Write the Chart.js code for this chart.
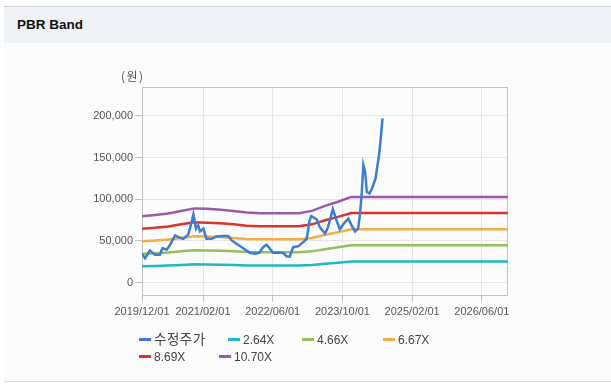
<!DOCTYPE html>
<html>
<head>
<meta charset="utf-8">
<script src="https://cdn.jsdelivr.net/npm/chart.js@4/dist/chart.umd.min.js"></script>
<style>
  html, body { margin: 0; padding: 0; width: 611px; height: 384px; overflow: hidden; background: #ffffff; font-family: "Liberation Sans", "Noto Sans CJK KR", sans-serif; }
  #box { position: absolute; left: 4px; top: 6px; width: 610px; height: 374px; background: #fcfcfc; border-top: 1px solid #d2d2d2; border-bottom: 1px solid #dcdcdc; }
  #head { position: absolute; left: 0; top: 0; width: 100%; height: 36px; background: #eff3f8; }
  #title { position: absolute; left: 13px; top: 10px; font-size: 13.5px; font-weight: bold; color: #111; font-family: "Liberation Sans", "Noto Sans CJK KR", sans-serif; }
  canvas { position: absolute; left: 0; top: 0; }
  #unit { position: absolute; left: 121px; top: 67px; font-size: 12px; color: #555; letter-spacing: 1.5px; font-family: "Noto Sans CJK KR", sans-serif; }
  .lg { position: absolute; font-size: 12px; color: #444; white-space: nowrap; line-height: 14px; }
  .lg i { display: inline-block; width: 12px; height: 3px; vertical-align: middle; margin-right: 3px; position: relative; top: -1px; }
  .lg span { font-family: "Liberation Sans", "Noto Sans CJK KR", sans-serif; }
  .lg span.ko { font-size: 13.5px; letter-spacing: 0.5px; }
</style>
</head>
<body>
<div id="box"><div id="head"><div id="title">PBR Band</div></div></div>
<canvas id="c" width="611" height="384"></canvas>
<div id="unit">(원)</div>
<div id="legend"></div>
<script>
// ---- data ----
const seriesNames = ['수정주가', '2.64X', '4.66X', '6.67X', '8.69X', '10.70X'];

const priceDates = ['2019/12/01','2019/12/22','2020/01/25','2020/03/01','2020/04/04','2020/04/22','2020/05/22','2020/06/12','2020/07/19','2020/08/10',
  '2020/09/15','2020/10/19','2020/11/13','2020/11/25','2020/12/13','2020/12/28','2021/01/10','2021/02/04','2021/02/25','2021/04/01',
  '2021/05/04','2021/06/19','2021/07/25','2021/08/19','2021/09/22','2021/10/28','2021/12/01','2021/12/25','2022/01/28','2022/02/28',
  '2022/03/25','2022/04/18','2022/05/12','2022/06/04','2022/07/10','2022/08/12','2022/09/06','2022/09/28','2022/10/22','2022/11/28',
  '2023/01/01','2023/01/25','2023/02/15','2023/02/27','2023/04/04','2023/04/25','2023/06/01','2023/06/22','2023/07/25','2023/08/20',
  '2023/09/13','2023/10/19','2023/11/12','2023/12/04','2023/12/28','2024/01/19','2024/02/01','2024/02/13','2024/02/25','2024/03/07',
  '2024/03/19','2024/04/07','2024/04/25','2024/05/19','2024/06/13','2024/06/25','2024/07/07'];
const priceValues = [34500, 29300, 38500, 33400, 33400, 41300, 39800, 44600, 56600, 54600,
  52600, 57500, 72700, 81900, 64700, 68700, 61400, 64700, 52600, 52600,
  55400, 55800, 55800, 50600, 46600, 42500, 38500, 35800, 34600, 35800,
  42500, 45400, 40600, 35800, 35800, 35800, 31700, 31300, 42500, 43700,
  48600, 52600, 74700, 79900, 75900, 66600, 58700, 66600, 88000, 74700,
  64000, 72700, 76700, 68700, 61400, 64700, 80700, 104800, 141000, 133000,
  108800, 106900, 112900, 125000, 153000, 173000, 197000];

const bandDates = ['2019/12/01','2020/03/01','2020/06/01','2020/09/01','2020/12/01','2021/03/01','2021/06/01','2021/09/01','2021/12/01',
  '2022/03/01','2022/06/01','2022/09/01','2022/12/01','2023/03/01','2023/06/01','2023/09/01','2023/12/01','2026/12/01'];
const band264  = [19600, 20000, 20500, 21200, 22000, 21800, 21600, 21200, 20700, 20500, 20500, 20500, 20500, 21200, 22700, 23900, 25400, 25400];
const band466  = [34600, 35300, 36200, 37500, 38800, 38500, 38100, 37500, 36600, 36300, 36300, 36300, 36300, 37500, 40100, 42300, 44800, 44800];
const band667  = [49600, 50500, 51800, 53600, 55500, 55200, 54600, 53600, 52400, 51900, 51900, 51900, 51900, 53600, 57400, 60500, 64100, 64100];
const band869  = [64600, 65800, 67400, 69900, 72300, 71900, 71100, 69900, 68200, 67600, 67600, 67600, 67600, 69900, 74700, 78800, 83500, 83500];
const band1070 = [79500, 81000, 83000, 86000, 89000, 88500, 87500, 86000, 84000, 83200, 83200, 83200, 83200, 86000, 92000, 97000, 102800, 102800];

const xTickLabels = ['2019/12/01', '2021/02/01', '2022/06/01', '2023/10/01', '2025/02/01', '2026/06/01'];
const xRange = ['2019/12/01', '2026/12/01'];
const yTickValues = [0, 50000, 100000, 150000, 200000];
const yRange = [-16000, 234500];

// ---- styles ----
const colors = ['#3d7dd2', '#1fb8c9', '#93bf5c', '#f2ac48', '#d8342c', '#9a5aa8'];

function toMonth(s) {
  const p = s.split('/').map(Number);
  return (p[0] - 2019) * 12 + (p[1] - 12) + (p[2] - 1) / 30;
}
function pts(dates, vals) { return dates.map((d, i) => ({ x: toMonth(d), y: vals[i] })); }

const bandSeries = [band264, band466, band667, band869, band1070];
const datasets = [{
  label: seriesNames[0], data: pts(priceDates, priceValues), borderColor: colors[0], backgroundColor: colors[0],
  borderWidth: 2.5, pointRadius: 0, tension: 0, order: 0
}].concat(bandSeries.map((b, i) => ({
  label: seriesNames[i + 1], data: pts(bandDates, b), borderColor: colors[i + 1], backgroundColor: colors[i + 1],
  borderWidth: 2.5, pointRadius: 0, tension: 0, order: 1
})));

const frame = {
  id: 'frame',
  beforeDatasetsDraw(chart) {
    const a = chart.chartArea, ctx = chart.ctx;
    ctx.save();
    ctx.strokeStyle = '#c4c4c4';
    ctx.lineWidth = 1;
    ctx.strokeRect(Math.round(a.left) + 0.5, Math.round(a.top) + 0.5, Math.round(a.right - a.left) - 1, Math.round(a.bottom - a.top) - 1);
    ctx.restore();
  }
};

const tickFont = { family: '"Liberation Sans", "Noto Sans CJK KR", sans-serif', size: 11 };

new Chart(document.getElementById('c'), {
  type: 'line',
  data: { datasets },
  options: {
    responsive: false, animation: false, devicePixelRatio: 1,
    layout: { padding: { top: 87, right: 103, left: 0, bottom: 0 } },
    plugins: { legend: { display: false }, tooltip: { enabled: false } },
    scales: {
      x: {
        type: 'linear', min: toMonth(xRange[0]), max: toMonth(xRange[1]),
        afterBuildTicks(s) { s.ticks = xTickLabels.map(l => ({ value: toMonth(l) })); },
        afterFit(s) { s.height = 384 - 296; },
        ticks: { callback: (v, i) => xTickLabels[i], color: '#555', font: tickFont, padding: 3, maxRotation: 0, autoSkip: false },
        grid: { color: '#e6e6e6', tickColor: '#c4c4c4', tickLength: 6, drawTicks: true },
        border: { display: false }
      },
      y: {
        type: 'linear', min: yRange[0], max: yRange[1],
        afterBuildTicks(s) { s.ticks = yTickValues.map(v => ({ value: v })); },
        afterFit(s) { s.width = 142; },
        ticks: { callback: v => v.toLocaleString('en-US'), color: '#555', font: tickFont, padding: 2 },
        grid: { color: '#e6e6e6', tickColor: '#c4c4c4', tickLength: 7, drawTicks: true },
        border: { display: false }
      }
    }
  },
  plugins: [frame]
});

// ---- HTML legend ----
const legendPos = [[139, 333], [228, 333], [302, 333], [383, 333], [139, 350], [219, 350]];
const lg = document.getElementById('legend');
seriesNames.forEach((n, i) => {
  const d = document.createElement('div');
  d.className = 'lg';
  d.style.left = legendPos[i][0] + 'px';
  d.style.top = legendPos[i][1] + 'px';
  const ko = /[\uac00-\ud7a3]/.test(n) ? ' class="ko"' : '';
  d.innerHTML = '<i style="background:' + colors[i] + '"></i><span' + ko + '>' + n + '</span>';
  lg.appendChild(d);
});
</script>
</body>
</html>
